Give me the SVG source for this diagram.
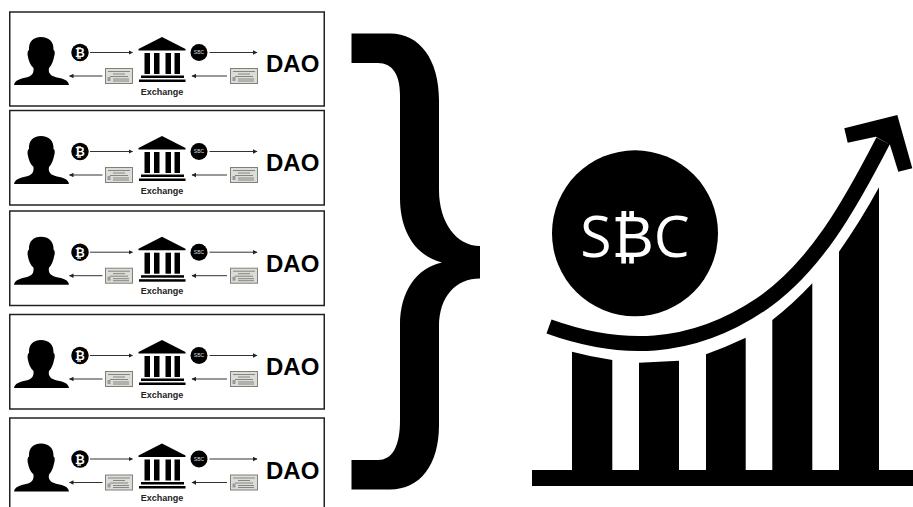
<svg xmlns="http://www.w3.org/2000/svg" width="913" height="507" viewBox="0 0 913 507">
<style>
text{font-family:"Liberation Sans",Arial,sans-serif}
.box{fill:#fff;stroke:#222;stroke-width:1.5}
.ln{stroke:#333;stroke-width:1;fill:none}
.dao{font-size:24px;font-weight:700;fill:#000}
.ex{font-size:9px;font-weight:700;fill:#222;text-anchor:middle}
.btc{font-size:12px;font-weight:700;fill:#fff;text-anchor:middle;font-family:"DejaVu Sans",sans-serif}
.sb{font-size:5px;fill:#ddd;text-anchor:middle}
</style>
<defs>
<marker id="ah" markerUnits="userSpaceOnUse" markerWidth="5" markerHeight="5" refX="4" refY="2.500" orient="auto"><path d="M0 .3L4.500 2.500L0 4.700z" fill="#222"/></marker>
<g id="person"><path d="M14 85C15 80 20 79 26 77.500C32 76 34 73.500 33.500 68C30 65 28.500 60 28 57C27 53 28 50 29 50C28.500 42 33 37 41 37C49 37 54 42 53.500 50C54.500 50 55.500 53 54 57C53.500 60 52 65 49 68C48 73 50.500 76 57 77.500C64 79 68 80 69 85Z" fill="#000"/></g>
<g id="bank" fill="#000"><path d="M162 37L185.500 49V50.500H138.500V49Z"/><rect x="144.500" y="53" width="5.500" height="21"/><rect x="154" y="53" width="5.500" height="21"/><rect x="165.500" y="53" width="5.500" height="21"/><rect x="174.500" y="53" width="5.500" height="21"/><rect x="141" y="75.500" width="43" height="2.500"/><rect x="139" y="79.500" width="46.500" height="2.500"/></g>
<g id="cert"><rect x=".5" y=".5" width="27" height="15" fill="#dcdcd8" stroke="#808078"/><path d="M3 3.500H25M8 6H20M5 8.500H23M8 11H24M8 13H24" stroke="#7c7c78" stroke-width=".9" fill="none"/><rect x="2.500" y="9" width="3" height="4" fill="#999"/></g>
</defs>
<g id="row-1"><rect class="box" x="9.750" y="12" width="314.500" height="94"/>
<use href="#person"/><circle cx="80" cy="52.500" r="8.700"/><text class="btc" x="80" y="57">₿</text><use href="#bank"/><circle cx="199" cy="52.500" r="8.500"/><text class="sb" x="199" y="54.300">SBC</text><use href="#cert" x="105" y="68"/><use href="#cert" x="230" y="68"/><text class="dao" x="266" y="72">DAO</text><text class="ex" x="162" y="94.500">Exchange</text></g>
<g id="row-2"><rect class="box" x="9.750" y="110.500" width="314.500" height="94.500"/>
<g transform="translate(0 99)"><use href="#person"/><circle cx="80" cy="52.500" r="8.700"/><text class="btc" x="80" y="57">₿</text><use href="#bank"/><circle cx="199" cy="52.500" r="8.500"/><text class="sb" x="199" y="54.300">SBC</text><use href="#cert" x="105" y="68"/><use href="#cert" x="230" y="68"/><text class="dao" x="266" y="72">DAO</text><text class="ex" x="162" y="94.500">Exchange</text></g></g>
<g id="row-3"><rect class="box" x="9.750" y="211" width="314.500" height="94.500"/>
<g transform="translate(0 199.700)"><use href="#person"/><circle cx="80" cy="52.500" r="8.700"/><text class="btc" x="80" y="57">₿</text><use href="#bank"/><circle cx="199" cy="52.500" r="8.500"/><text class="sb" x="199" y="54.300">SBC</text><use href="#cert" x="105" y="68"/><use href="#cert" x="230" y="68"/><text class="dao" x="266" y="72">DAO</text><text class="ex" x="162" y="94.500">Exchange</text></g></g>
<g id="row-4"><rect class="box" x="9.750" y="314.500" width="314.500" height="94.500"/>
<g transform="translate(0 303)"><use href="#person"/><circle cx="80" cy="52.500" r="8.700"/><text class="btc" x="80" y="57">₿</text><use href="#bank"/><circle cx="199" cy="52.500" r="8.500"/><text class="sb" x="199" y="54.300">SBC</text><use href="#cert" x="105" y="68"/><use href="#cert" x="230" y="68"/><text class="dao" x="266" y="72">DAO</text><text class="ex" x="162" y="94.500">Exchange</text></g></g>
<g id="row-5"><rect class="box" x="9.750" y="418" width="314.500" height="95"/>
<g transform="translate(0 406.500)"><use href="#person"/><circle cx="80" cy="52.500" r="8.700"/><text class="btc" x="80" y="57">₿</text><use href="#bank"/><circle cx="199" cy="52.500" r="8.500"/><text class="sb" x="199" y="54.300">SBC</text><use href="#cert" x="105" y="68"/><use href="#cert" x="230" y="68"/><text class="dao" x="266" y="72">DAO</text><text class="ex" x="162" y="94.500">Exchange</text></g></g>
<g id="connectors">
<path class="ln" marker-end="url(#ah)" d="M90 52.500H132.500"/><path class="ln" marker-end="url(#ah)" d="M102.500 76H69.500"/><path class="ln" marker-end="url(#ah)" d="M209.500 52.500H257"/><path class="ln" marker-end="url(#ah)" d="M227 76H192"/>
<path class="ln" marker-end="url(#ah)" d="M90 151.500H132.500"/><path class="ln" marker-end="url(#ah)" d="M102.500 175H69.500"/><path class="ln" marker-end="url(#ah)" d="M209.500 151.500H257"/><path class="ln" marker-end="url(#ah)" d="M227 175H192"/>
<path class="ln" marker-end="url(#ah)" d="M90 252.200H132.500"/><path class="ln" marker-end="url(#ah)" d="M102.500 275.700H69.500"/><path class="ln" marker-end="url(#ah)" d="M209.500 252.200H257"/><path class="ln" marker-end="url(#ah)" d="M227 275.700H192"/>
<path class="ln" marker-end="url(#ah)" d="M90 355.500H132.500"/><path class="ln" marker-end="url(#ah)" d="M102.500 379H69.500"/><path class="ln" marker-end="url(#ah)" d="M209.500 355.500H257"/><path class="ln" marker-end="url(#ah)" d="M227 379H192"/>
<path class="ln" marker-end="url(#ah)" d="M90 459H132.500"/><path class="ln" marker-end="url(#ah)" d="M102.500 482.500H69.500"/><path class="ln" marker-end="url(#ah)" d="M209.500 459H257"/><path class="ln" marker-end="url(#ah)" d="M227 482.500H192"/>
</g>
<g id="brace"><path d="M351.500 33.500H390C420 33.500 439 60 439 100V190C439 222 456 246 480 246V278.500C456 278.500 439 296 439 327V425C439 465 420 489.500 390 489.500H351.500V460H378C392 460 400 447 400 420V325C400 292 416 268 442 262.500C416 256 400 232 400 198V95C400 74 392 63 378 63H351.500Z"/></g>
<g id="sbc-coin"><circle cx="635" cy="233.300" r="83"/><text x="635" y="256.800" font-size="57" fill="#fff" text-anchor="middle" style="font-family:'Open Sans','DejaVu Sans',sans-serif">S₿C</text></g>
<g id="chart"><path d="M532 470H572V351.700Q592 357 612.300 360V470H639V362.700L679 360.700V470H706V354.300Q726 347 745.700 337.700V470H772.300V320Q793 304 812.300 283.300V470H839V251.700Q860 222 879 187.300V470H913V486H532Z"/>
<path d="M549 326.500C620 352 690 352 760 305C815 268 850 205 883 141" fill="none" stroke="#000" stroke-width="15"/>
<path d="M844.300 128.300L897.300 115L912.300 168.300L898.300 171.700L890 145L875.700 136.700L847.700 142.700Z"/></g>
</svg>
